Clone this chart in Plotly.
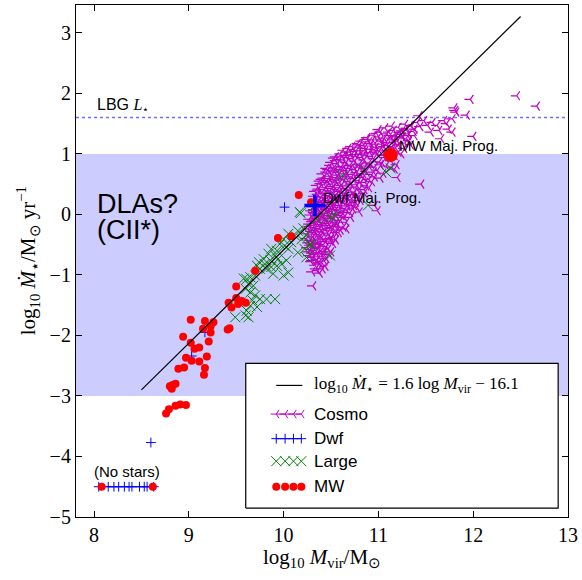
import plotly.graph_objects as go

# ---------------- data ----------------
fit_x = [8.5, 12.5]
fit_y = [-2.9, 3.27]

cosmo_x = [
    10.38, 10.41,
    10.33, 10.37, 10.44, 10.30,
    10.27, 10.31, 10.35, 10.40, 10.45, 10.50,
    10.25, 10.29, 10.33, 10.37, 10.42, 10.47, 10.52,
    10.24, 10.28, 10.31, 10.35, 10.39, 10.43, 10.48, 10.53, 10.58,
    10.26, 10.29, 10.33, 10.36, 10.40, 10.44, 10.48, 10.52, 10.57, 10.63,
    10.27, 10.30, 10.34, 10.37, 10.41, 10.45, 10.49, 10.53, 10.58, 10.64, 10.70,
    10.29, 10.33, 10.36, 10.40, 10.43, 10.47, 10.51, 10.55, 10.60, 10.65, 10.71, 10.77,
    10.31, 10.35, 10.38, 10.42, 10.46, 10.50, 10.54, 10.58, 10.63, 10.68, 10.73, 10.79, 10.85,
    10.33, 10.37, 10.41, 10.45, 10.49, 10.53, 10.57, 10.61, 10.66, 10.71, 10.76, 10.81, 10.87, 10.93,
    10.38, 10.42, 10.46, 10.50, 10.54, 10.58, 10.62, 10.67, 10.72, 10.77, 10.82, 10.87, 10.93, 10.99, 11.05,
    10.45, 10.49, 10.53, 10.57, 10.61, 10.66, 10.70, 10.75, 10.80, 10.85, 10.90, 10.95, 11.01, 11.07, 11.13, 11.19,
    10.55, 10.60, 10.65, 10.70, 10.75, 10.80, 10.85, 10.91, 10.97, 11.03, 11.09, 11.15, 11.21, 11.27,
    10.72, 10.78, 10.84, 10.90, 10.96, 11.02, 11.08, 11.14, 11.20, 11.26, 11.32,
    10.88, 10.95, 11.02, 11.09, 11.16, 11.23, 11.30, 11.37,
    # second layer
    10.29, 10.35, 10.39, 10.43, 10.34, 10.30,
    10.26, 10.30, 10.34, 10.38, 10.43, 10.48,
    10.26, 10.30, 10.35, 10.39, 10.44, 10.49, 10.55,
    10.25, 10.29, 10.33, 10.37, 10.41, 10.46, 10.50, 10.55, 10.60,
    10.27, 10.31, 10.35, 10.39, 10.43, 10.47, 10.51, 10.55, 10.60, 10.66,
    10.28, 10.32, 10.35, 10.39, 10.42, 10.46, 10.50, 10.54, 10.58, 10.62, 10.67, 10.73,
    10.30, 10.34, 10.38, 10.41, 10.45, 10.49, 10.53, 10.57, 10.62, 10.66, 10.71, 10.76, 10.81,
    10.32, 10.36, 10.40, 10.44, 10.48, 10.52, 10.56, 10.60, 10.65, 10.70, 10.75, 10.80, 10.85, 10.90,
    10.35, 10.39, 10.43, 10.47, 10.51, 10.55, 10.59, 10.64, 10.69, 10.74, 10.79, 10.84, 10.90, 10.96, 11.02,
    10.41, 10.45, 10.49, 10.53, 10.57, 10.61, 10.65, 10.70, 10.75, 10.80, 10.85, 10.90, 10.96, 11.02, 11.08, 11.14,
    10.50, 10.55, 10.59, 10.63, 10.68, 10.73, 10.78, 10.83, 10.88, 10.93, 10.99, 11.05, 11.11, 11.17, 11.24,
    10.63, 10.68, 10.74, 10.79, 10.85, 10.91, 10.97, 11.03, 11.09, 11.15, 11.21, 11.28, 11.34,
    10.82, 10.88, 10.94, 11.00, 11.06, 11.12, 11.18, 11.24, 11.31, 11.38,
    11.00, 11.07, 11.14, 11.21, 11.28, 11.35, 11.44,
    # third layer (core)
    10.36, 10.40, 10.32, 10.42,
    10.28, 10.36, 10.45, 10.31, 10.40, 10.50,
    10.27, 10.32, 10.38, 10.43, 10.50, 10.56, 10.31, 10.36, 10.44, 10.52, 10.61,
    10.32, 10.38, 10.45, 10.52, 10.59, 10.67, 10.74, 10.34, 10.40, 10.47, 10.55, 10.62, 10.70, 10.78,
    10.36, 10.43, 10.51, 10.59, 10.68, 10.77, 10.86, 10.40, 10.48, 10.56, 10.65, 10.74, 10.84, 10.95,
    10.47, 10.55, 10.64, 10.73, 10.82, 10.92, 11.04, 10.53, 10.62, 10.71, 10.81, 10.91, 11.01, 11.12,
    10.66, 10.76, 10.86, 10.96, 11.06, 11.18, 10.80, 10.92, 11.04, 11.16, 11.29, 10.98, 11.11, 11.25,
    # sparse outliers
    10.31, 10.66, 10.54, 10.71, 10.80, 10.96, 10.99, 11.20, 10.35, 10.40, 10.36, 10.49,
    12.46, 12.67, 11.97, 11.81, 11.80, 11.82, 11.93, 11.78, 11.74, 11.78, 11.72, 11.69,
    11.62, 11.64, 11.57, 11.55, 11.52, 11.48, 11.43, 11.41, 11.38, 11.34, 11.32, 11.29,
    11.25, 11.22, 11.18, 11.17, 12.00, 11.45, 11.17, 11.66,
]
cosmo_y = [
    -0.97, -0.90,
    -0.84, -0.80, -0.86, -0.76,
    -0.68, -0.71, -0.66, -0.70, -0.73, -0.62,
    -0.55, -0.58, -0.52, -0.56, -0.50, -0.57, -0.48,
    -0.40, -0.43, -0.37, -0.42, -0.36, -0.41, -0.34, -0.38, -0.30,
    -0.24, -0.28, -0.22, -0.27, -0.20, -0.25, -0.18, -0.23, -0.16, -0.21,
    -0.08, -0.12, -0.06, -0.11, -0.04, -0.09, -0.02, -0.07, 0.00, -0.05, 0.03,
    0.06, 0.02, 0.09, 0.04, 0.11, 0.06, 0.13, 0.08, 0.15, 0.10, 0.17, 0.12,
    0.21, 0.18, 0.25, 0.20, 0.27, 0.22, 0.29, 0.24, 0.31, 0.26, 0.33, 0.28, 0.35,
    0.38, 0.42, 0.37, 0.44, 0.39, 0.46, 0.41, 0.48, 0.43, 0.50, 0.45, 0.52, 0.47, 0.54,
    0.55, 0.60, 0.56, 0.63, 0.58, 0.65, 0.60, 0.67, 0.62, 0.69, 0.64, 0.71, 0.66, 0.73, 0.68,
    0.76, 0.81, 0.77, 0.84, 0.79, 0.86, 0.81, 0.88, 0.83, 0.90, 0.85, 0.92, 0.87, 0.94, 0.89, 0.82,
    0.95, 1.00, 0.97, 1.03, 0.99, 1.05, 1.01, 1.08, 1.03, 1.10, 1.05, 1.12, 1.03, 1.09,
    1.12, 1.17, 1.14, 1.20, 1.16, 1.23, 1.19, 1.26, 1.21, 1.28, 1.22,
    1.27, 1.31, 1.36, 1.33, 1.39, 1.35, 1.42, 1.37,
    # second layer
    -0.78, -0.75, -0.82, -0.77, -0.90, -0.95,
    -0.62, -0.64, -0.60, -0.63, -0.61, -0.66,
    -0.47, -0.49, -0.46, -0.48, -0.45, -0.44, -0.42,
    -0.32, -0.34, -0.30, -0.33, -0.29, -0.31, -0.27, -0.30, -0.26,
    -0.16, -0.18, -0.14, -0.17, -0.13, -0.15, -0.11, -0.14, -0.10, -0.13,
    -0.01, 0.03, -0.02, 0.01, -0.03, 0.02, 0.05, 0.01, 0.07, 0.03, 0.06, 0.09,
    0.13, 0.15, 0.12, 0.17, 0.14, 0.19, 0.16, 0.19, 0.22, 0.18, 0.24, 0.20, 0.23,
    0.30, 0.33, 0.29, 0.34, 0.31, 0.36, 0.33, 0.38, 0.35, 0.40, 0.37, 0.42, 0.41, 0.44,
    0.48, 0.51, 0.49, 0.53, 0.50, 0.55, 0.52, 0.57, 0.54, 0.59, 0.56, 0.61, 0.58, 0.62, 0.60,
    0.67, 0.70, 0.68, 0.72, 0.70, 0.74, 0.72, 0.76, 0.74, 0.78, 0.76, 0.80, 0.78, 0.82, 0.80, 0.78,
    0.86, 0.89, 0.91, 0.90, 0.94, 0.92, 0.96, 0.94, 0.98, 0.96, 1.00, 0.98, 1.01, 0.97, 1.00,
    1.06, 1.09, 1.07, 1.11, 1.09, 1.13, 1.11, 1.16, 1.14, 1.18, 1.15, 1.18, 1.15,
    1.21, 1.24, 1.23, 1.28, 1.26, 1.30, 1.28, 1.32, 1.30, 1.30,
    1.40, 1.43, 1.46, 1.44, 1.49, 1.46, 1.45,
    # third layer (core)
    -0.93, -0.79, -0.70, -0.65,
    -0.51, -0.54, -0.53, -0.44, -0.39, -0.40,
    -0.20, -0.26, -0.23, -0.19, -0.22, -0.20, -0.09, -0.04, -0.06, -0.04, -0.02,
    0.08, 0.06, 0.09, 0.10, 0.11, 0.14, 0.15, 0.24, 0.22, 0.23, 0.26, 0.27, 0.30, 0.32,
    0.40, 0.41, 0.43, 0.44, 0.47, 0.49, 0.53, 0.58, 0.59, 0.61, 0.63, 0.66, 0.67, 0.70,
    0.74, 0.75, 0.78, 0.80, 0.81, 0.83, 0.85, 0.93, 0.95, 0.97, 0.99, 1.02, 1.05, 1.07,
    1.03, 1.04, 1.05, 1.07, 1.12, 1.10, 1.15, 1.17, 1.21, 1.23, 1.25, 1.34, 1.36, 1.38,
    # sparse outliers
    -1.18, -0.24, -0.19, -0.05, 0.04, 0.15, 0.06, 0.61, -0.76, -0.65, -0.49, -0.41,
    1.96, 1.79, 1.90, 1.72, 1.76, 1.69, 1.64, 1.58, 1.41, 1.36, 1.50, 1.55,
    1.47, 1.39, 1.52, 1.36, 1.47, 1.55, 1.63, 1.52, 1.41, 1.47, 1.33, 1.41,
    1.28, 1.36, 1.30, 1.19, 1.29, 0.50, 0.75, 1.25,
]

dwf_x = [8.60, 10.01, 9.17, 9.03]
dwf_y = [-3.77, 0.12, -1.95, -2.34]
dwf_nostar_x = [8.05, 8.15, 8.21, 8.26, 8.32, 8.37, 8.40, 8.48, 8.53, 8.56, 8.63]
dwf_nostar_y = [-4.5] * 11
dwf_prog_x = [10.33]
dwf_prog_y = [0.145]

large_x = [
    10.18, 10.15, 10.21, 10.12, 10.05, 10.00, 10.08, 10.19, 10.24, 10.28, 10.22, 10.24,
    10.15, 10.05, 10.01, 9.96, 9.93, 9.87, 9.91, 9.84, 9.86, 9.79, 9.80, 9.74, 9.75,
    9.72, 9.82, 9.87, 9.89, 9.93, 9.98, 10.03, 10.05, 10.00, 9.94, 9.70, 9.65, 9.61,
    9.58, 9.63, 9.68, 9.60, 9.65, 9.70, 9.67, 9.65, 9.72, 9.61, 9.60, 9.63, 9.49,
    9.82, 9.91, 9.75,
    10.62, 10.85, 11.08, 11.13, 10.89, 10.54, 10.49, 10.35, 10.17, 10.31, 10.49, 10.29,
]
large_y = [
    0.02, -0.27, -0.23, -0.35, -0.32, -0.41, -0.46, -0.41, -0.35, -0.49, -0.57, -0.71,
    -0.63, -0.57, -0.52, -0.49, -0.60, -0.57, -0.68, -0.65, -0.76, -0.74, -0.82, -0.79, -0.90,
    -0.85, -0.90, -0.87, -0.98, -0.85, -0.82, -0.76, -0.96, -1.01, -0.74, -1.01, -1.04, -1.07,
    -1.06, -1.15, -1.18, -1.23, -1.29, -1.34, -1.42, -1.51, -1.53, -1.59, -1.67, -1.70, -1.70,
    -1.40, -1.40, -1.40,
    0.64, 0.72, 0.70, 0.76, 0.15, -0.02, -0.05, -0.07, 0.04, 0.12, -0.68, -0.52,
]

mw_x = [
    10.16, 10.29, 9.94, 10.08, 9.70, 9.50, 9.50, 9.42, 9.45, 9.52, 9.56, 9.60, 9.43, 9.41,
    9.02, 9.17, 9.26, 9.23, 9.15, 9.23, 8.94, 9.21, 9.02, 9.11, 9.06, 9.19, 8.97, 9.03,
    9.11, 8.95, 8.89, 9.17, 9.16, 8.80, 8.83, 8.86, 8.82, 8.97, 8.91, 8.86, 8.79, 8.76,
]
mw_y = [
    0.32, 0.20, -0.39, -0.36, -0.93, -1.19, -1.38, -1.46, -1.54, -1.48, -1.43, -1.46, -1.88, -1.90,
    -1.74, -1.76, -1.78, -1.85, -1.89, -1.95, -2.02, -2.10, -2.12, -2.20, -2.22, -2.35, -2.37, -2.42,
    -2.43, -2.53, -2.55, -2.54, -2.65, -2.84, -2.82, -2.80, -2.88, -3.15, -3.14, -3.16, -3.22, -3.29,
]
mw_nostar_x = [8.08, 8.62]
mw_nostar_y = [-4.5, -4.5]
mw_prog_x = [11.13]
mw_prog_y = [0.98]

band_y = [-3.0, 1.0]
lbg_y = 1.6

x_ticks = [8, 9, 10, 11, 12, 13]
y_ticks = [-5, -4, -3, -2, -1, 0, 1, 2, 3]

MAG = "#bf00bf"
GRN = "#008000"
BLU = "#0000ff"
RED = "#ff0000"
SERIF = "Liberation Serif"
SANS = "Liberation Sans"

fig = go.Figure()

fig.add_trace(go.Scatter(x=cosmo_x, y=cosmo_y, mode="markers",
                         marker=dict(symbol="y-left", size=7.5, color=MAG,
                                     line=dict(color=MAG, width=1.2)),
                         showlegend=False))
fig.add_trace(go.Scatter(x=dwf_x, y=dwf_y, mode="markers",
                         marker=dict(symbol="cross-thin", size=7, color=BLU,
                                     line=dict(color=BLU, width=1)),
                         showlegend=False))
fig.add_trace(go.Scatter(x=dwf_nostar_x, y=dwf_nostar_y, mode="lines+markers",
                         line=dict(color=BLU, width=1),
                         marker=dict(symbol="cross-thin", size=7, color=BLU,
                                     line=dict(color=BLU, width=1)),
                         showlegend=False))
fig.add_trace(go.Scatter(x=large_x, y=large_y, mode="markers",
                         marker=dict(symbol="x-thin", size=10, color=GRN,
                                     line=dict(color=GRN, width=1)),
                         showlegend=False))
fig.add_trace(go.Scatter(x=mw_x, y=mw_y, mode="markers",
                         marker=dict(symbol="circle", size=8, color=RED),
                         showlegend=False))
fig.add_trace(go.Scatter(x=mw_nostar_x, y=mw_nostar_y, mode="markers",
                         marker=dict(symbol="circle", size=8, color=RED),
                         showlegend=False))
fig.add_trace(go.Scatter(x=fit_x, y=fit_y, mode="lines",
                         line=dict(color="black", width=1.2), showlegend=False))
fig.add_trace(go.Scatter(x=mw_prog_x, y=mw_prog_y, mode="markers",
                         marker=dict(symbol="circle", size=14, color=RED),
                         showlegend=False))
fig.add_trace(go.Scatter(x=dwf_prog_x, y=dwf_prog_y, mode="markers",
                         marker=dict(symbol="cross-thin", size=15, color=BLU,
                                     line=dict(color=BLU, width=3.5)),
                         showlegend=False))

# ---------- custom legend on an overlaid unit axis ----------
leg_box_x = [0.345, 0.980, 0.980, 0.345, 0.345]
leg_box_y = [0.0175, 0.0175, 0.300, 0.300, 0.0175]
leg_rows = [0.257, 0.201, 0.153, 0.109, 0.059]
leg_mx = [0.407, 0.425, 0.442, 0.458]
fig.add_trace(go.Scatter(x=leg_box_x, y=leg_box_y, xaxis="x2", yaxis="y2",
                         mode="lines", fill="toself", fillcolor="white",
                         line=dict(color="black", width=1.2), showlegend=False,
                         hoverinfo="skip"))
fig.add_trace(go.Scatter(x=[0.407, 0.460], y=[leg_rows[0]] * 2, xaxis="x2", yaxis="y2",
                         mode="lines", line=dict(color="black", width=1.2),
                         showlegend=False, hoverinfo="skip"))
fig.add_trace(go.Scatter(x=leg_mx, y=[leg_rows[1]] * 4, xaxis="x2", yaxis="y2",
                         mode="lines+markers", line=dict(color=MAG, width=1),
                         marker=dict(symbol="y-left", size=7, color=MAG,
                                     line=dict(color=MAG, width=1)),
                         showlegend=False, hoverinfo="skip"))
fig.add_trace(go.Scatter(x=leg_mx, y=[leg_rows[2]] * 4, xaxis="x2", yaxis="y2",
                         mode="lines+markers", line=dict(color=BLU, width=1),
                         marker=dict(symbol="cross-thin", size=7, color=BLU,
                                     line=dict(color=BLU, width=1)),
                         showlegend=False, hoverinfo="skip"))
fig.add_trace(go.Scatter(x=leg_mx, y=[leg_rows[3]] * 4, xaxis="x2", yaxis="y2",
                         mode="markers",
                         marker=dict(symbol="x-thin", size=10, color=GRN,
                                     line=dict(color=GRN, width=1)),
                         showlegend=False, hoverinfo="skip"))
fig.add_trace(go.Scatter(x=leg_mx, y=[leg_rows[4]] * 4, xaxis="x2", yaxis="y2",
                         mode="markers",
                         marker=dict(symbol="circle", size=8, color=RED),
                         showlegend=False, hoverinfo="skip"))

leg_labels = [
    "log<sub>10</sub> <i>Ṁ</i><sub>⋆</sub> = 1.6 log <i>M</i><sub>vir</sub> − 16.1",
    "Cosmo", "Dwf", "Large", "MW",
]
for i, lab in enumerate(leg_labels):
    fig.add_annotation(x=0.480, y=leg_rows[i], xref="paper", yref="paper",
                       text=lab, showarrow=False, xanchor="left", yanchor="middle",
                       font=dict(family=SERIF if i == 0 else SANS, size=17, color="black"))

# ---------- band & reference line ----------
fig.add_shape(type="rect", xref="x domain", yref="y", x0=0, x1=1,
              y0=band_y[0], y1=band_y[1], fillcolor="#ccccff", line=dict(width=0),
              layer="below")
fig.add_shape(type="line", xref="x domain", yref="y", x0=0, x1=1,
              y0=lbg_y, y1=lbg_y, line=dict(color="#6f6fff", width=1.5, dash="dot"),
              layer="below")

# ---------- text ----------
fig.add_annotation(x=8.01, y=1.80, text="LBG <span style='font-family:Liberation Serif'><i>L</i><sub>⋆</sub></span>",
                   showarrow=False, xanchor="left", yanchor="middle",
                   font=dict(family=SANS, size=16, color="black"))
fig.add_annotation(x=8.01, y=0.17, text="DLAs?", showarrow=False, xanchor="left",
                   yanchor="middle", font=dict(family=SANS, size=27, color="black"))
fig.add_annotation(x=8.01, y=-0.25, text="(CII*)", showarrow=False, xanchor="left",
                   yanchor="middle", font=dict(family=SANS, size=27, color="black"))
fig.add_annotation(x=11.20, y=1.14, text="MW Maj. Prog.", showarrow=False, xanchor="left",
                   yanchor="middle", font=dict(family=SANS, size=15, color="black"))
fig.add_annotation(x=10.39, y=0.28, text="Dwf Maj. Prog.", showarrow=False, xanchor="left",
                   yanchor="middle", font=dict(family=SANS, size=15, color="black"))
fig.add_annotation(x=8.35, y=-4.25, text="(No stars)", showarrow=False, xanchor="center",
                   yanchor="middle", font=dict(family=SANS, size=15, color="black"))

# axis titles
fig.add_annotation(x=0.5, y=-0.080, xref="paper", yref="paper",
                   text="log<sub>10</sub> <i>M</i><sub>vir</sub>/M<sub>⊙</sub>",
                   showarrow=False, xanchor="center", yanchor="middle",
                   font=dict(family=SERIF, size=21, color="black"))
fig.add_annotation(x=-0.098, y=0.501, xref="paper", yref="paper",
                   text="log<sub>10</sub> <i>Ṁ</i><sub>⋆</sub>/M<sub>⊙</sub> yr<sup>−1</sup>",
                   showarrow=False, xanchor="center", yanchor="middle", textangle=-90,
                   font=dict(family=SERIF, size=21, color="black"))

axis_common = dict(showline=True, linecolor="black", linewidth=1.2, mirror="ticks",
                   ticks="inside", ticklen=6, tickwidth=1, tickcolor="black",
                   showgrid=False, zeroline=False,
                   tickfont=dict(family=SERIF, size=20, color="black"))

fig.update_layout(
    width=582, height=580,
    margin=dict(l=76, r=10, t=4, b=63),
    paper_bgcolor="white", plot_bgcolor="white",
    showlegend=False,
    xaxis=dict(range=[7.81, 13.0], tickvals=x_ticks, ticktext=[str(v) for v in x_ticks],
               **axis_common),
    yaxis=dict(range=[-5.0, 3.46], tickvals=y_ticks,
               ticktext=[str(v).replace("-", "−") for v in y_ticks],
               **axis_common),
    xaxis2=dict(overlaying="x", range=[0, 1], visible=False, fixedrange=True),
    yaxis2=dict(overlaying="y", range=[0, 1], visible=False, fixedrange=True),
)

fig.write_html("out.html")
